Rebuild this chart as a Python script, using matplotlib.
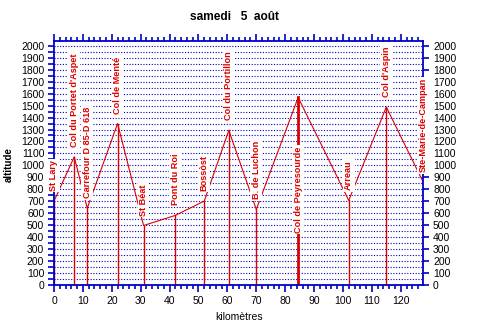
import matplotlib
matplotlib.use("Agg")
import matplotlib.pyplot as plt
from matplotlib.ticker import MultipleLocator

# étape du samedi 5 août : profil de la route
lieux = ["St Lary", "Col du Portet d'Aspet", "Carrefour D 85-D 618", "Col de Menté",
         "St Béat", "Pont du Roi", "Bossòst", "Col du Portillon", "B. de Luchon",
         "Col de Peyresourde", "Arreau", "Col d'Aspin", "Ste-Marie-de-Campan"]
km = [0, 7, 11.5, 22, 31, 42, 52, 60.5, 70, 84.5, 102, 115, 127.8]
altitude = [700, 1070, 640, 1350, 495, 580, 700, 1293, 630, 1569, 705, 1489, 857]

ROUGE = "#dd0000"
BLEU = "#0000c8"
plt.rcParams["font.family"] = ["Liberation Sans", "DejaVu Sans"]

fig = plt.figure(figsize=(4.79, 3.35), dpi=100)
ax = fig.add_axes([54 / 479, 50 / 335, 369.3 / 479, 244.3 / 335])

ax.set_xlim(0, 127.8)
ax.set_ylim(-4, 2045)

# quadrillage pointillé tous les 50 m
for h in range(50, 2001, 50):
    ax.axhline(h, color=BLEU, lw=0.8, ls=(0, (1, 1.5)), zorder=1)

ax.plot(km, altitude, color=ROUGE, lw=0.8, zorder=2)
for i, (x, h) in enumerate(zip(km, altitude)):
    lw = 2.0 if lieux[i] == "Col de Peyresourde" else 1.0
    ax.plot([x, x], [0, h], color=ROUGE, lw=lw, zorder=2)

# pas de place au-dessus du col de Peyresourde : étiquette sur le trait
bas_etiquette = {"Col de Peyresourde": 350}
for nom, x, h in zip(lieux, km, altitude):
    ax.annotate(nom, (x, bas_etiquette.get(nom, h)), xytext=(0, 10),
                textcoords="offset pixels", rotation=90, ha="center", va="bottom",
                color=ROUGE, fontsize=6.6, fontweight="bold", zorder=6,
                annotation_clip=False,
                bbox=dict(facecolor="white", edgecolor="none", pad=1))

for s in ax.spines.values():
    s.set_color(BLEU)
    s.set_linewidth(1.3)
    s.set_zorder(5)

ax.xaxis.set_major_locator(MultipleLocator(10))
ax.xaxis.set_minor_locator(MultipleLocator(2))
ax.yaxis.set_major_locator(MultipleLocator(100))
ax.yaxis.set_minor_locator(MultipleLocator(50))
ax.tick_params(axis="x", which="major", direction="out", length=5, width=1.2,
               color=BLEU, top=True, labelsize=7.5, pad=3)
ax.tick_params(axis="x", which="minor", direction="out", length=3, width=1.2,
               color=BLEU, top=True)
ax.tick_params(axis="y", which="both", direction="out", length=4, width=1.2,
               color=BLEU, right=True, labelright=True, labelsize=7.5, pad=3)
ax.tick_params(axis="y", which="minor", right=False)

ax.set_xlabel("kilomètres", fontsize=7.5, labelpad=4)
fig.text(9 / 479, 1 - 165 / 335, "altitude", rotation=90, ha="center", va="center",
         fontsize=7, fontweight="bold")
fig.text(234 / 479, 1 - 17 / 335, "samedi   5  août", ha="center", va="center",
         fontsize=8.6, fontweight="bold")

fig.savefig("out.png", dpi=100)
